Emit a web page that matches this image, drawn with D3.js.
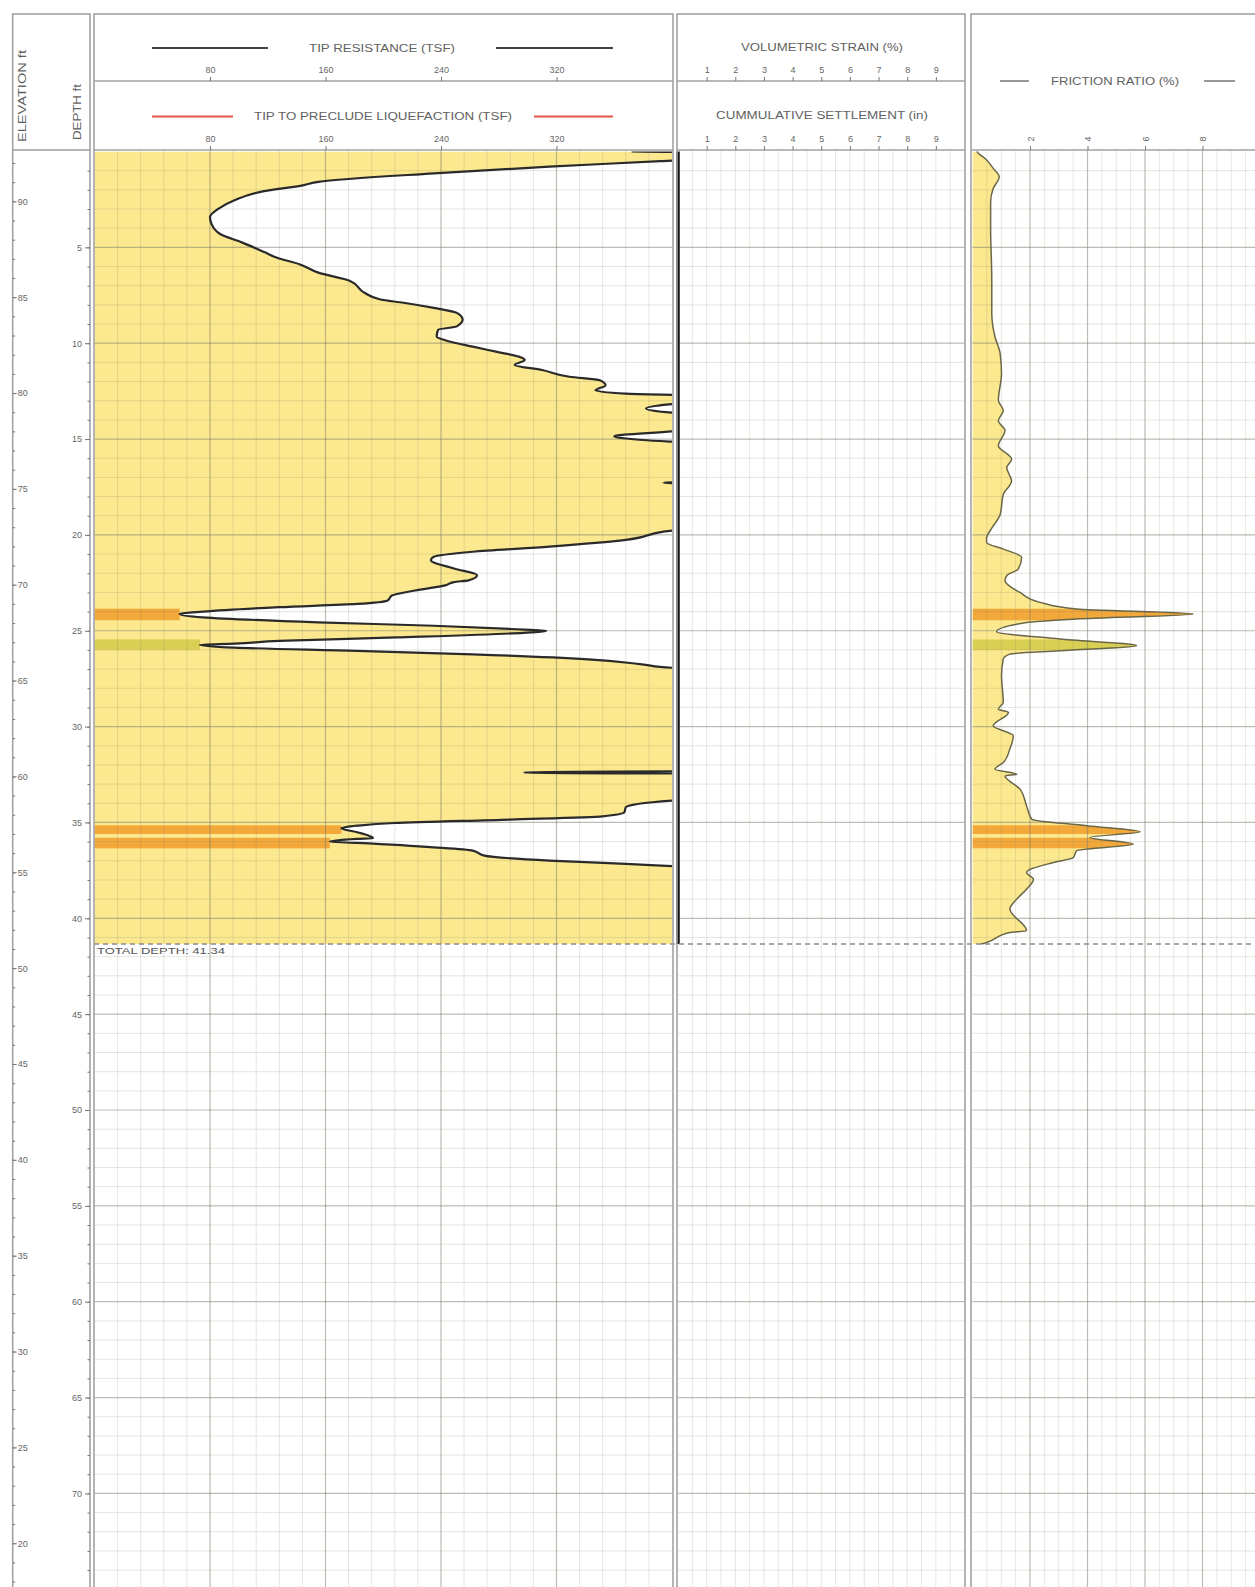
<!DOCTYPE html>
<html><head><meta charset="utf-8">
<script src="https://cdn.jsdelivr.net/npm/d3@7"></script>
<style>
body{margin:0;background:#fff;}
svg{display:block;font-family:"Liberation Sans",Arial,sans-serif;}
</style>
</head><body>
<svg id="c" width="1255" height="1587"></svg>
<script>
// ---------- DATA ----------
const tipDepth = [0,0.06,0.38,0.5,0.79,1.14,1.58,1.75,2.11,2.54,2.98,3.42,3.77,4.30,4.74,5.26,5.53,5.88,6.32,6.75,7.37,7.72,7.89,8.16,8.42,8.77,9.12,9.30,9.65,9.91,10.18,10.44,10.70,10.88,11.14,11.40,11.75,11.93,12.19,12.46,12.63,12.75,13.05,13.2,13.4,13.6,13.75,14.45,14.6,14.85,15.05,15.25,17.18,17.28,17.36,19.6,19.82,20.26,20.61,20.88,21.14,21.32,21.75,22.1,22.37,22.46,22.63,22.9,23.16,23.42,23.6,23.77,24.0,24.12,24.3,24.56,24.74,24.91,25.0,25.14,25.35,25.53,25.67,25.74,25.88,26.05,26.23,26.49,26.75,26.93,27.0,32.33,32.36,32.42,32.45,33.8,33.86,34.21,34.47,34.68,34.85,35.03,35.17,35.3,35.51,35.82,35.86,36.0,36.07,36.3,36.47,36.73,36.99,37.16,37.28,37.35,41.34];
const tipValue = [372,420,420,392,315,235,155,145,115,97,86,80,81,87,102,118,126,142,155,177,187,198,214,235,251,255,251,238,237,246,262,278,294,298,291,310,329,350,354,347,368,420,420,396,382,396,420,420,400,360,380,420,420,394,420,420,395,368,315,262,235,233,249,265,259,249,243,222,206,203,182,128,75,59,75,155,235,289,313,289,209,128,97,73,97,182,262,342,379,400,420,420,298,298,420,420,400,368,367,352,288,208,182,171,182,193,182,163,182,235,262,270,315,368,400,420,420];

const frDepth = [0,0.09,0.35,0.88,1.32,1.93,2.63,4.04,6.67,8.42,9.65,10.53,11.58,12.98,13.51,14.04,14.56,15.35,16.05,16.49,17.19,17.89,18.95,19.65,20.18,20.39,20.74,21.17,21.78,22.13,22.39,23.0,23.52,23.87,24.13,24.39,24.57,25.05,25.43,25.78,26.04,26.22,26.48,27.35,28.74,29.09,29.26,29.96,30.48,31.17,31.87,32.22,32.48,32.57,33.26,34.13,34.83,35.17,35.49,35.78,36.13,36.48,36.83,37.09,37.61,37.96,38.48,39.0,39.52,40.65,40.74,41.26,41.34];
const frValue = [0.15,0.2,0.43,0.72,0.93,0.72,0.63,0.63,0.67,0.67,0.78,0.96,1.01,0.9,1.07,0.9,1.13,0.9,1.36,1.19,1.36,1.07,0.96,0.67,0.49,0.49,1.07,1.71,1.59,1.19,1.13,1.65,2.35,3.62,7.68,3.62,1.88,0.84,3.04,5.71,3.04,1.3,1.07,1.01,1.07,0.9,1.25,0.72,1.42,1.3,1.07,0.78,1.54,1.13,1.65,1.88,2.06,3.97,5.83,4.09,5.6,3.62,3.51,2.81,1.88,2.12,1.88,1.54,1.3,1.88,1.3,0.49,0.3];

const settleDepth = [0, 41.34];
const settleValue = [0, 0];

const bandTop = [23.85, 25.45, 35.15, 35.8];
const bandBottom = [24.45, 26.0, 35.6, 36.35];
const bandType = ["liq", "trans", "liq", "liq"];

const totalDepth = 41.34;
const groundElev = 92.6;

const tipTicks = [80, 160, 240, 320];
const strainTicks = [1,2,3,4,5,6,7,8,9];
const settleTicks = [1,2,3,4,5,6,7,8,9];
const frTicks = [2, 4, 6, 8];
const depthTicks = [5,10,15,20,25,30,35,40,45,50,55,60,65,70];
const elevTicks = [90,85,80,75,70,65,60,55,50,45,40,35,30,25,20];

// ---------- STYLE ----------
const YELLOW = "#fce98f", ORANGE = "#f3a83a", OLIVE = "#d9cf52";
const BORDER = "#a2a2a2", TXT = "#616161";

const svg = d3.select("#c");
const defs = svg.append("defs");
function clipRect(id, x0, x1, y0, y1) {
  defs.append("clipPath").attr("id", id).append("rect")
    .attr("x", x0).attr("y", y0).attr("width", x1 - x0).attr("height", y1 - y0);
}

// ---------- SCALES ----------
const PLOT_TOP = 151.5, PX_FT = 19.17;
const y = d3.scaleLinear().domain([0, 75]).range([PLOT_TOP, PLOT_TOP + 75 * PX_FT]);
const yElev = d3.scaleLinear().domain([groundElev, groundElev - 75]).range(y.range());
const xTip = d3.scaleLinear().domain([0, 400]).range([94.5, 672]);
const xMid = d3.scaleLinear().domain([0, 10]).range([678, 964.5]);
const xFr = d3.scaleLinear().domain([0, 10]).range([972.5, 1260]);

const HEAD_TOP = 14, HEAD_MID = 81, HEAD_BOT = 150, BOTTOM = 1600;

// ---------- GRID ----------
function grid(x, vMinor, vMajor, x0, x1) {
  const g = svg.append("g");
  const depths = d3.range(1, 76, 1);
  g.selectAll("line.h").data(depths).join("line")
    .attr("x1", x0).attr("x2", x1)
    .attr("y1", d => y(d)).attr("y2", d => y(d))
    .attr("stroke", "#7a7a6a")
    .attr("stroke-opacity", d => d % 5 === 0 ? 0.5 : 0.22)
    .attr("stroke-width", d => d % 5 === 0 ? 1.2 : 0.9);
  g.selectAll("line.v").data(vMinor).join("line")
    .attr("x1", d => x(d)).attr("x2", d => x(d))
    .attr("y1", HEAD_BOT).attr("y2", BOTTOM)
    .attr("stroke", "#7a7a6a")
    .attr("stroke-opacity", d => vMajor(d) ? 0.5 : 0.22)
    .attr("stroke-width", d => vMajor(d) ? 1.2 : 0.9);
  return g;
}

// ---------- TIP PANEL ----------
const tipData = tipDepth.map((d, i) => ({ d, v: tipValue[i] }));
clipRect("clipTip", xTip(0), xTip(400), y(0), y(totalDepth));
svg.append("path").datum(tipData)
  .attr("clip-path", "url(#clipTip)")
  .attr("fill", YELLOW)
  .attr("d", d3.area().curve(d3.curveMonotoneY).x0(xTip(0)).x1(p => xTip(p.v)).y(p => y(p.d)));
bandTop.forEach((t, i) => {
  const mn = d3.min(tipData.filter(p => p.d >= t && p.d <= bandBottom[i]), p => p.v);
  svg.append("rect")
    .attr("x", xTip(0)).attr("width", xTip(mn) - xTip(0))
    .attr("y", y(t)).attr("height", y(bandBottom[i]) - y(t))
    .attr("fill", bandType[i] === "liq" ? ORANGE : OLIVE);
});

// ---------- FRICTION PANEL ----------
const frData = frDepth.map((d, i) => ({ d, v: frValue[i] }));
const frArea = d3.area().curve(d3.curveMonotoneY).x0(xFr(0)).x1(p => xFr(p.v)).y(p => y(p.d));
clipRect("clipFr", xFr(0), 1255, y(0), y(totalDepth));
svg.append("path").datum(frData).attr("clip-path", "url(#clipFr)")
  .attr("fill", YELLOW).attr("d", frArea);
bandTop.forEach((t, i) => {
  clipRect("clipBand" + i, xFr(0), 1255, y(t), y(bandBottom[i]));
  svg.append("path").datum(frData).attr("clip-path", "url(#clipBand" + i + ")")
    .attr("fill", bandType[i] === "liq" ? ORANGE : OLIVE).attr("d", frArea);
});

// grids
grid(xTip, d3.range(16, 400, 16), v => v % 80 === 0, xTip(0), xTip(400));
grid(xMid, d3.range(0.5, 10, 0.5), v => false, xMid(0), xMid(10));
grid(xFr, d3.range(0.5, 10.01, 0.5), v => v % 2 === 0, xFr(0), 1255);

// curves
svg.append("path").datum(tipData)
  .attr("clip-path", "url(#clipTip)")
  .attr("fill", "none").attr("stroke", "#2a2a2a").attr("stroke-width", 2.2)
  .attr("stroke-linejoin", "round")
  .attr("d", d3.line().curve(d3.curveMonotoneY).x(p => xTip(p.v)).y(p => y(p.d)));
svg.append("path").datum(frData)
  .attr("fill", "none").attr("stroke", "#6a6648").attr("stroke-width", 1.5)
  .attr("d", d3.line().curve(d3.curveMonotoneY).x(p => xFr(p.v)).y(p => y(p.d)));

// settlement
const settleData = settleDepth.map((d, i) => ({ d, v: settleValue[i] }));
svg.append("path").datum(settleData)
  .attr("fill", "none").attr("stroke", "#111").attr("stroke-width", 3.5)
  .attr("d", d3.line().x(p => xMid(p.v)).y(p => y(p.d)));

// total depth line
svg.append("line").attr("x1", 94).attr("x2", 1255)
  .attr("y1", y(totalDepth)).attr("y2", y(totalDepth))
  .attr("stroke", "#8a8a8a").attr("stroke-width", 1.3).attr("stroke-dasharray", "5,4");
svg.append("text").attr("x", 97).attr("y", y(totalDepth) + 10)
  .attr("font-size", 9.5).attr("fill", "#555")
  .attr("textLength", 128).attr("lengthAdjust", "spacingAndGlyphs")
  .text("TOTAL DEPTH: " + totalDepth.toFixed(2));

// ---------- FRAMES ----------
const fr = svg.append("g").attr("fill", "none").attr("stroke", BORDER).attr("stroke-width", 1.6);
fr.append("rect").attr("x", 12.7).attr("y", HEAD_TOP).attr("width", 90 - 12.7).attr("height", HEAD_BOT - HEAD_TOP);
fr.append("line").attr("x1", 12.7).attr("x2", 12.7).attr("y1", HEAD_BOT).attr("y2", BOTTOM);
fr.append("line").attr("x1", 90).attr("x2", 90).attr("y1", HEAD_BOT).attr("y2", BOTTOM);
[[94, 673], [677, 965], [971, 1262]].forEach(([a, b]) => {
  fr.append("rect").attr("x", a).attr("y", HEAD_TOP).attr("width", b - a).attr("height", BOTTOM);
  fr.append("line").attr("x1", a).attr("x2", b).attr("y1", HEAD_BOT).attr("y2", HEAD_BOT);
});
fr.append("line").attr("x1", 94).attr("x2", 673).attr("y1", HEAD_MID).attr("y2", HEAD_MID);
fr.append("line").attr("x1", 677).attr("x2", 965).attr("y1", HEAD_MID).attr("y2", HEAD_MID);

// ---------- HEADERS ----------
function htext(x, yy, s, len, rot) {
  const t = svg.append("text").attr("font-size", 10).attr("fill", TXT)
    .attr("text-anchor", "middle").attr("dominant-baseline", "middle")
    .attr("textLength", len).attr("lengthAdjust", "spacingAndGlyphs").text(s);
  if (rot) t.attr("transform", `translate(${x},${yy}) rotate(-90)`);
  else t.attr("x", x).attr("y", yy);
}
htext(23, 96, "ELEVATION ft", 92, true);
htext(78, 112, "DEPTH ft", 56, true);
htext(382, 49, "TIP RESISTANCE (TSF)", 146);
htext(383, 117, "TIP TO PRECLUDE LIQUEFACTION (TSF)", 258);
htext(822, 48, "VOLUMETRIC STRAIN (%)", 162);
htext(822, 116, "CUMMULATIVE SETTLEMENT (in)", 212);
htext(1115, 82, "FRICTION RATIO (%)", 128);

const leg = svg.append("g").attr("stroke-width", 2);
leg.append("line").attr("x1", 152).attr("x2", 268).attr("y1", 48).attr("y2", 48).attr("stroke", "#444");
leg.append("line").attr("x1", 496).attr("x2", 613).attr("y1", 48).attr("y2", 48).attr("stroke", "#444");
leg.append("line").attr("x1", 152).attr("x2", 233).attr("y1", 116.5).attr("y2", 116.5).attr("stroke", "#e4584a");
leg.append("line").attr("x1", 534).attr("x2", 613).attr("y1", 116.5).attr("y2", 116.5).attr("stroke", "#e4584a");
leg.append("line").attr("x1", 1000).attr("x2", 1029).attr("y1", 81).attr("y2", 81).attr("stroke", "#777").attr("stroke-width", 1.5);
leg.append("line").attr("x1", 1204).attr("x2", 1235).attr("y1", 81).attr("y2", 81).attr("stroke", "#777").attr("stroke-width", 1.5);

function styleAxis(g) {
  g.select(".domain").remove();
  g.selectAll(".tick line").attr("stroke", "#777");
  g.selectAll(".tick text").attr("fill", "#666").attr("font-size", 9)
    .attr("font-family", '"Liberation Sans",Arial,sans-serif');
}
[[xTip, tipTicks, HEAD_MID], [xTip, tipTicks, HEAD_BOT], [xMid, strainTicks, HEAD_MID], [xMid, settleTicks, HEAD_BOT]]
  .forEach(([sc, tv, yy]) => {
    svg.append("g").attr("transform", `translate(0,${yy})`)
      .call(d3.axisTop(sc).tickValues(tv).tickSize(4).tickPadding(4)).call(styleAxis);
  });
const frAx = svg.append("g").attr("transform", `translate(0,${HEAD_BOT})`)
  .call(d3.axisTop(xFr).tickValues(frTicks).tickSize(4).tickPadding(4)).call(styleAxis);
frAx.selectAll(".tick text").attr("transform", "translate(0,-11) rotate(-90)")
  .attr("text-anchor", "middle").attr("dy", "0.35em").attr("y", 0);

// ---------- DEPTH / ELEVATION AXES ----------
svg.append("g").attr("transform", "translate(90,0)")
  .call(d3.axisLeft(y).tickValues(depthTicks).tickSize(5).tickPadding(3)).call(styleAxis);
svg.append("g").attr("transform", "translate(90,0)")
  .call(d3.axisLeft(y).tickValues(d3.range(1, 75, 1)).tickSize(2.5).tickFormat("")).call(styleAxis);
svg.append("g").attr("transform", "translate(12.7,0)")
  .call(d3.axisRight(yElev).tickValues(elevTicks).tickSize(4).tickPadding(1)).call(styleAxis);
svg.append("g").attr("transform", "translate(12.7,0)")
  .call(d3.axisRight(yElev).tickValues(d3.range(18, 93, 1)).tickSize(2.5).tickFormat("")).call(styleAxis);
</script>
</body></html>
